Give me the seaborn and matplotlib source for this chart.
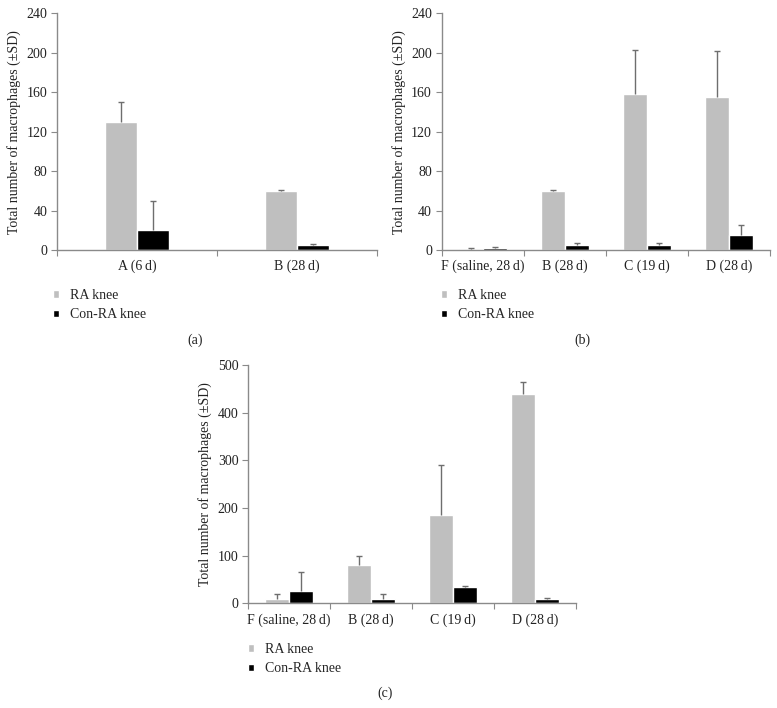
import numpy as np
import pandas as pd
import matplotlib
matplotlib.use('Agg')
import matplotlib.pyplot as plt
import seaborn as sns

# Data
series = ['RA knee', 'Con-RA knee']

cats_a = ['A (6\u2009d)', 'B (28\u2009d)']
ra_a = [130, 60]
ra_a_sd = [20, 1]
con_a = [20, 5]
con_a_sd = [30, 1]

cats_b = ['F (saline, 28\u2009d)', 'B (28\u2009d)', 'C (19\u2009d)', 'D (28\u2009d)']
ra_b = [1, 60, 158, 155]
ra_b_sd = [1, 1, 45, 47]
con_b = [2, 5, 5, 15]
con_b_sd = [1, 2, 2, 10]

cats_c = ['F (saline, 28\u2009d)', 'B (28\u2009d)', 'C (19\u2009d)', 'D (28\u2009d)']
ra_c = [10, 80, 185, 440]
ra_c_sd = [10, 20, 105, 25]
con_c = [25, 10, 35, 10]
con_c_sd = [40, 10, 2, 2]

yticks_ab = [0, 40, 80, 120, 160, 200, 240]
yticks_c = [0, 100, 200, 300, 400, 500]

sns.set_style('ticks')
plt.rcParams['font.family'] = ['Liberation Serif', 'DejaVu Serif']
plt.rcParams['font.size'] = 10

bar_colors = ['#bfbfbf', '#000000']
axis_color = '#8a8a8a'
err_color = '#6e6e6e'

fig = plt.figure(figsize=(7.77, 7.08), dpi=100)


def make_panel(rect, cats, ra, ra_sd, con, con_sd, yticks, width, letter, letter_xy, leg_xy):
    ax = fig.add_axes(rect)
    df = pd.DataFrame({
        'group': cats * 2,
        'value': ra + con,
        'series': [series[0]] * len(cats) + [series[1]] * len(cats),
    })
    sns.barplot(data=df, x='group', y='value', hue='series', order=cats,
                hue_order=series, palette=bar_colors, width=width,
                errorbar=None, saturation=1, ax=ax, legend=True)
    # upper-only error bars, cap only at the top
    for cont, sds in zip(ax.containers, [ra_sd, con_sd]):
        for bar, sd in zip(cont, sds):
            x = bar.get_x() + bar.get_width() / 2
            eb = ax.errorbar(x, bar.get_height(), yerr=[[0], [sd]], fmt='none',
                             ecolor=err_color, elinewidth=1.0, capsize=2.4,
                             capthick=1.0, zorder=3)
            caps = eb[1]
            if len(caps) == 2:
                caps[0].set_visible(False)
    n = len(cats)
    ax.set_xlim(-0.5, n - 0.5)
    ax.set_ylim(yticks[0], yticks[-1])
    ax.set_yticks(yticks)
    ax.set_xticks(range(n))
    ax.set_xticklabels(cats)
    ax.set_xticks(np.arange(n + 1) - 0.5, minor=True)
    ax.tick_params(axis='x', which='major', length=0, pad=7, colors='#222222')
    ax.tick_params(axis='x', which='minor', length=4, width=0.8, color=axis_color, direction='out')
    ax.tick_params(axis='y', length=4, width=0.8, color=axis_color, colors='#222222', pad=3)
    ax.tick_params(axis='y', which='major', color=axis_color)
    ax.set_xlabel('')
    ax.set_ylabel('Total number of macrophages (\u00b1SD)', color='#222222', labelpad=4)
    sns.despine(ax=ax)
    for side in ['left', 'bottom']:
        ax.spines[side].set_color(axis_color)
        ax.spines[side].set_linewidth(1.0)
    handles, labels = ax.get_legend_handles_labels()
    ax.legend(handles, labels, loc='upper left', bbox_to_anchor=leg_xy,
              bbox_transform=fig.transFigure, frameon=False,
              handlelength=0.45, handleheight=0.45, handletextpad=0.8,
              labelspacing=0.45, borderaxespad=0, borderpad=0)
    fig.text(letter_xy[0], letter_xy[1], letter, ha='center', va='center', color='#222222')
    return ax


W, H = 777.0, 708.0
make_panel([57.3 / W, 1 - 250 / H, 319.7 / W, 236.7 / H], cats_a, ra_a, ra_a_sd,
           con_a, con_a_sd, yticks_ab, 0.4, '(a)', (195 / W, 1 - 340 / H),
           (53 / W, 1 - 289 / H))
make_panel([441.7 / W, 1 - 250 / H, 328.3 / W, 236.7 / H], cats_b, ra_b, ra_b_sd,
           con_b, con_b_sd, yticks_ab, 0.58, '(b)', (582 / W, 1 - 340 / H),
           (441 / W, 1 - 289 / H))
make_panel([248.3 / W, 1 - 603.3 / H, 327.4 / W, 238.3 / H], cats_c, ra_c, ra_c_sd,
           con_c, con_c_sd, yticks_c, 0.58, '(c)', (385 / W, 1 - 693 / H),
           (248 / W, 1 - 643 / H))

fig.savefig('out.png', dpi=100, facecolor='white')
